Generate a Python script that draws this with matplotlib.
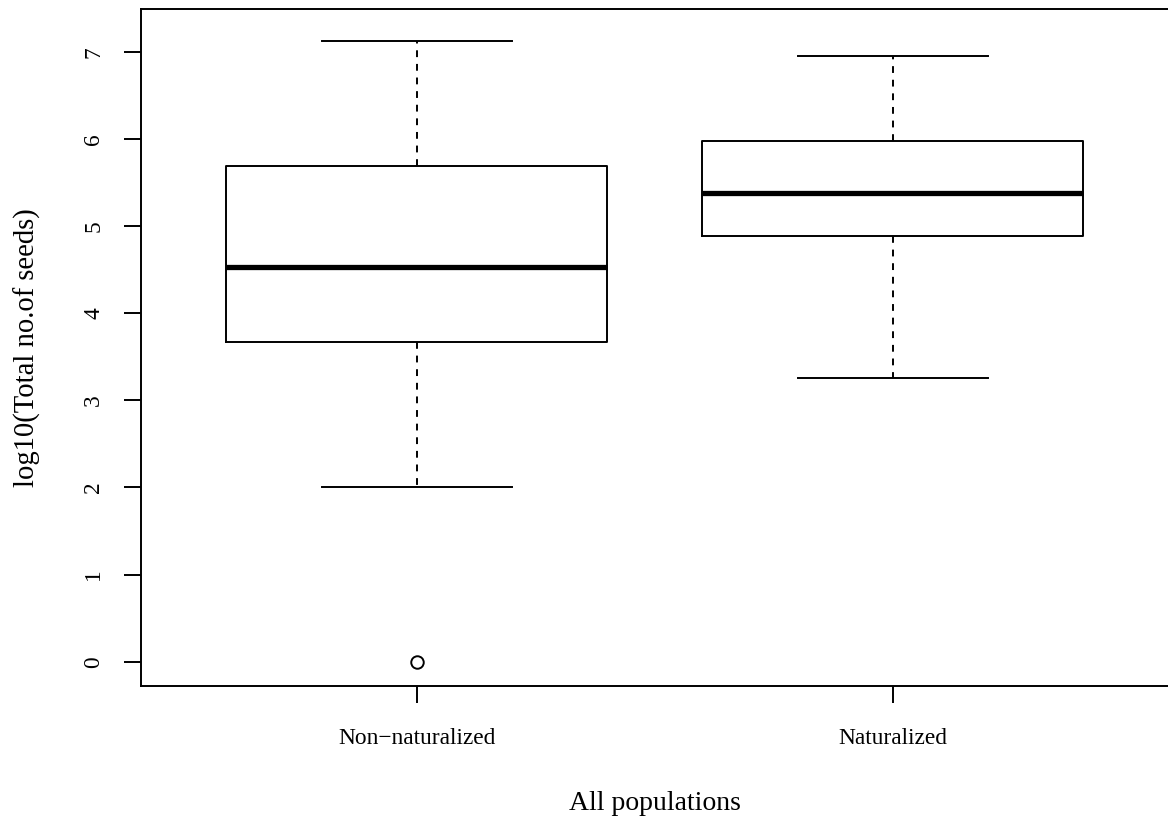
import matplotlib
matplotlib.use("Agg")
import matplotlib.pyplot as plt

plt.rcParams['font.family'] = ['Liberation Serif', 'DejaVu Serif']

# Box statistics (log10 of total seeds)
groups = ["Non\u2212naturalized", "Naturalized"]
whisker_low = [2.00, 3.26]
q1 = [3.67, 4.89]
medians = [4.53, 5.38]
q3 = [5.69, 5.98]
whisker_high = [7.12, 6.95]
outliers = [[0.0], []]

stats = []
for i in range(len(groups)):
    stats.append({
        "label": groups[i],
        "whislo": whisker_low[i],
        "q1": q1[i],
        "med": medians[i],
        "q3": q3[i],
        "whishi": whisker_high[i],
        "fliers": outliers[i],
    })

fig = plt.figure(figsize=(11.68, 8.27), dpi=100)
ax = fig.add_axes([140.7 / 1168, 1 - 686 / 827, (1169 - 140.7) / 1168, (686 - 9) / 827])

lw = 1.4
ax.bxp(stats, positions=[1, 2], widths=0.8, capwidths=0.4,
       boxprops=dict(color="black", linewidth=lw),
       medianprops=dict(color="black", linewidth=3.8, solid_capstyle="butt"),
       whiskerprops=dict(color="black", linewidth=lw, linestyle=(0, (3.5, 3.5))),
       capprops=dict(color="black", linewidth=lw),
       flierprops=dict(marker="o", markerfacecolor="none", markeredgecolor="black",
                       markersize=9, markeredgewidth=lw))

ax.set_xlim(0.42, 2.58)
ax.set_ylim(-0.279, 7.49)
ax.set_yticks(range(0, 8))
ax.set_xticks([1, 2])
ax.set_xticklabels(groups)

for s in ax.spines.values():
    s.set_linewidth(lw)

ax.tick_params(axis="both", length=12.2, width=lw, labelsize=16.8, direction="out")
ax.tick_params(axis="x", pad=18)
ax.tick_params(axis="y", pad=14, labelrotation=90)
for t in ax.get_yticklabels():
    t.set_va("center")

ax.set_xlabel("All populations", fontsize=20, va="center")
ax.xaxis.set_label_coords((655 - 140.7) / 1028.3, (686 - 803) / 677)
ax.set_ylabel("log10(Total no.of seeds)", fontsize=20.6, va="center")
ax.yaxis.set_label_coords((27 - 140.7) / 1028.3, 0.5)

fig.savefig("out.png", dpi=100)
